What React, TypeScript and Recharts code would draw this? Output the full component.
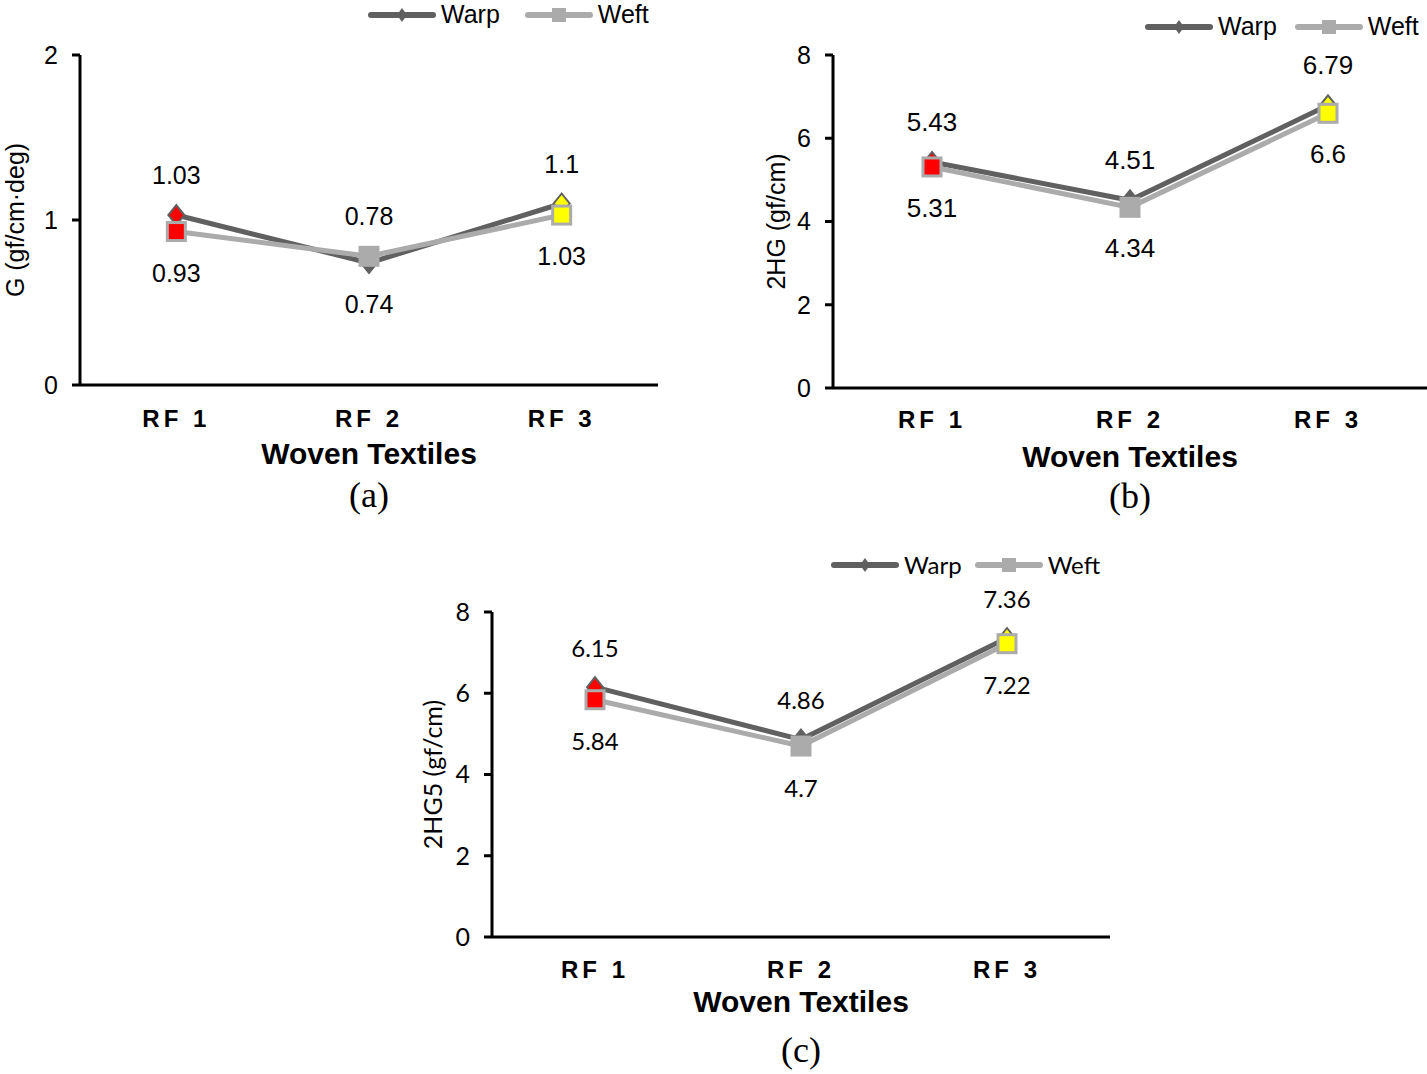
import { Label, LabelList, Legend, Line, LineChart, XAxis, YAxis } from 'recharts'

const categories = ['RF 1', 'RF 2', 'RF 3']

const gWarp = [1.03, 0.74, 1.1]
const gWeft = [0.93, 0.78, 1.03]
const hgWarp = [5.43, 4.51, 6.79]
const hgWeft = [5.31, 4.34, 6.6]
const hg5Warp = [6.15, 4.86, 7.36]
const hg5Weft = [5.84, 4.7, 7.22]

const gTicks = [0, 1, 2]
const hgTicks = [0, 2, 4, 6, 8]

// per-point marker fills (middle point keeps the series colour)
const markerFills = ['#ff0000', '', '#ffff00']

const WARP = '#606060'
const WEFT = '#ababab'
const ARIAL = '"Liberation Sans", Arial, sans-serif'
const CALIBRI = 'Lato, "Open Sans", sans-serif'
const TIMES = '"Liberation Serif", "Times New Roman", serif'

const rows = (warp: number[], weft: number[]) =>
  categories.map((name, i) => ({ name, warp: warp[i], weft: weft[i] }))

const diamondPath = (cx: number, cy: number, rx: number, ry: number) =>
  `M${cx},${cy - ry}L${cx + rx},${cy}L${cx},${cy + ry}L${cx - rx},${cy}Z`

const warpDot = (p: any) => {
  const { cx, cy, index } = p
  return (
    <path
      key={`wd-${index}`}
      d={diamondPath(cx, cy, 8, 10)}
      fill={markerFills[index] || WARP}
      stroke={WARP}
      strokeWidth={2}
    />
  )
}

const weftDot = (p: any) => {
  const { cx, cy, index } = p
  return (
    <rect
      key={`sq-${index}`}
      x={cx - 9}
      y={cy - 9}
      width={18}
      height={18}
      fill={markerFills[index] || WEFT}
      stroke={WEFT}
      strokeWidth={3}
    />
  )
}

const valueLabel = (own: number[], other: number[], font: string, size: number) => (p: any) => {
  const { x, y, index, value } = p
  const above = own[index] >= other[index]
  return (
    <text
      key={`lbl-${index}`}
      x={x}
      y={above ? y - 40 : y + 41}
      textAnchor="middle"
      dominantBaseline="central"
      fontFamily={font}
      fontSize={size}
      fill="#000"
    >
      {value}
    </text>
  )
}

function LegendRow({ font, size, gap }: { font: string; size: number; gap: number }) {
  return (
    <div style={{ display: 'flex', alignItems: 'center', fontFamily: font, fontSize: size, lineHeight: 1.1, whiteSpace: 'nowrap', color: '#000' }}>
      <svg width={68} height={24}>
        <line x1={3} y1={12} x2={65} y2={12} stroke={WARP} strokeWidth={6} strokeLinecap="round" />
        <path d={diamondPath(34, 12, 5, 7)} fill={WARP} />
      </svg>
      <span style={{ marginLeft: 5 }}>Warp</span>
      <svg width={68} height={24} style={{ marginLeft: gap }}>
        <line x1={3} y1={12} x2={65} y2={12} stroke={WEFT} strokeWidth={6} strokeLinecap="round" />
        <rect x={27} y={5} width={14} height={14} fill={WEFT} />
      </svg>
      <span style={{ marginLeft: 5 }}>Weft</span>
    </div>
  )
}

type PanelProps = {
  warp: number[]
  weft: number[]
  ticks: number[]
  yLabel: string
  caption: string
  left: number
  top: number
  width: number
  height: number
  margin: { top: number; right: number; left: number; bottom: number }
  yWidth: number
  xHeight: number
  yLabelX: number
  tickGap: number
  titleGap: number
  captionGap: number
  legendLeft: number
  legendTop: number
  legendGap: number
  font: string
  labelSize: number
  legendSize: number
}

function Panel(props: PanelProps) {
  const { warp, weft, ticks, font, labelSize, margin } = props
  const max = ticks[ticks.length - 1]
  // half a category band on each side, like a category axis in a spreadsheet chart
  const plotWidth = props.width - margin.left - margin.right - props.yWidth
  const halfBand = plotWidth / (categories.length * 2)

  const xTick = (p: any) => (
    <text
      x={p.x}
      y={p.y + props.tickGap}
      textAnchor="middle"
      dominantBaseline="central"
      fontFamily={ARIAL}
      fontWeight="bold"
      fontSize={24}
      letterSpacing={4}
      fill="#000"
    >
      {p.payload.value}
    </text>
  )

  return (
    <div style={{ position: 'absolute', left: props.left, top: props.top }}>
      <LineChart width={props.width} height={props.height} data={rows(warp, weft)} margin={margin}>
        <XAxis
          dataKey="name"
          interval={0}
          height={props.xHeight}
          padding={{ left: halfBand, right: halfBand }}
          tickSize={0}
          tickMargin={0}
          tickLine={false}
          axisLine={{ stroke: '#000', strokeWidth: 3 }}
          tick={xTick}
        >
          <Label
            content={(lp: any) => {
              const vb = lp.viewBox
              return (
                <text
                  x={vb.x + vb.width / 2}
                  y={vb.y + props.titleGap}
                  textAnchor="middle"
                  dominantBaseline="central"
                  fontFamily={ARIAL}
                  fontWeight="bold"
                  fontSize={30}
                  fill="#000"
                >
                  Woven Textiles
                </text>
              )
            }}
          />
          <Label
            content={(lp: any) => {
              const vb = lp.viewBox
              return (
                <text
                  x={vb.x + vb.width / 2}
                  y={vb.y + props.captionGap}
                  textAnchor="middle"
                  dominantBaseline="central"
                  fontFamily={TIMES}
                  fontSize={36}
                  fill="#000"
                >
                  {props.caption}
                </text>
              )
            }}
          />
        </XAxis>
        <YAxis
          width={props.yWidth}
          domain={[0, max]}
          ticks={ticks}
          interval={0}
          tickSize={8}
          tickMargin={14}
          axisLine={{ stroke: '#000', strokeWidth: 3 }}
          tickLine={{ stroke: '#000', strokeWidth: 3 }}
          tick={{ fill: '#000', fontSize: 25, fontFamily: font }}
        >
          <Label
            content={(lp: any) => {
              const vb = lp.viewBox
              const cy = vb.y + vb.height / 2
              return (
                <text
                  x={props.yLabelX}
                  y={cy}
                  transform={`rotate(-90, ${props.yLabelX}, ${cy})`}
                  textAnchor="middle"
                  dominantBaseline="central"
                  fontFamily={font}
                  fontSize={25}
                  fill="#000"
                >
                  {props.yLabel}
                </text>
              )
            }}
          />
        </YAxis>
        <Legend
          layout="horizontal"
          align="center"
          verticalAlign="middle"
          wrapperStyle={{ top: props.legendTop, left: props.legendLeft, width: 'auto', height: 'auto' }}
          content={() => <LegendRow font={font} size={props.legendSize} gap={props.legendGap} />}
        />
        <Line
          type="linear"
          dataKey="warp"
          stroke={WARP}
          strokeWidth={5}
          dot={warpDot}
          activeDot={false}
          isAnimationActive={false}
        >
          <LabelList dataKey="warp" content={valueLabel(warp, weft, font, labelSize)} />
        </Line>
        <Line
          type="linear"
          dataKey="weft"
          stroke={WEFT}
          strokeWidth={5}
          dot={weftDot}
          activeDot={false}
          isAnimationActive={false}
        >
          <LabelList dataKey="weft" content={valueLabel(weft, warp, font, labelSize)} />
        </Line>
      </LineChart>
    </div>
  )
}

export default function App() {
  return (
    <div style={{ position: 'absolute', left: 0, top: 0, width: 1427, height: 1074, background: '#fff', overflow: 'hidden' }}>
      <Panel
        warp={gWarp}
        weft={gWeft}
        ticks={gTicks}
        yLabel="G (gf/cm·deg)"
        caption="(a)"
        left={0}
        top={0}
        width={680}
        height={520}
        margin={{ top: 55, right: 22, left: 0, bottom: 0 }}
        yWidth={80}
        xHeight={135}
        yLabelX={15}
        tickGap={33}
        titleGap={68}
        captionGap={110}
        legendLeft={368}
        legendTop={1}
        legendGap={25}
        font={ARIAL}
        labelSize={25}
        legendSize={25}
      />
      <Panel
        warp={hgWarp}
        weft={hgWeft}
        ticks={hgTicks}
        yLabel="2HG (gf/cm)"
        caption="(b)"
        left={750}
        top={0}
        width={677}
        height={520}
        margin={{ top: 55, right: 0, left: 0, bottom: 0 }}
        yWidth={83}
        xHeight={132}
        yLabelX={26}
        tickGap={31}
        titleGap={68}
        captionGap={108}
        legendLeft={395}
        legendTop={13}
        legendGap={18}
        font={ARIAL}
        labelSize={26}
        legendSize={25}
      />
      <Panel
        warp={hg5Warp}
        weft={hg5Weft}
        ticks={hgTicks}
        yLabel="2HG5 (gf/cm)"
        caption="(c)"
        left={410}
        top={540}
        width={710}
        height={534}
        margin={{ top: 72, right: 10, left: 0, bottom: 0 }}
        yWidth={82}
        xHeight={137}
        yLabelX={22}
        tickGap={32}
        titleGap={64}
        captionGap={113}
        legendLeft={421}
        legendTop={12}
        legendGap={13}
        font={CALIBRI}
        labelSize={24}
        legendSize={24}
      />
    </div>
  )
}
